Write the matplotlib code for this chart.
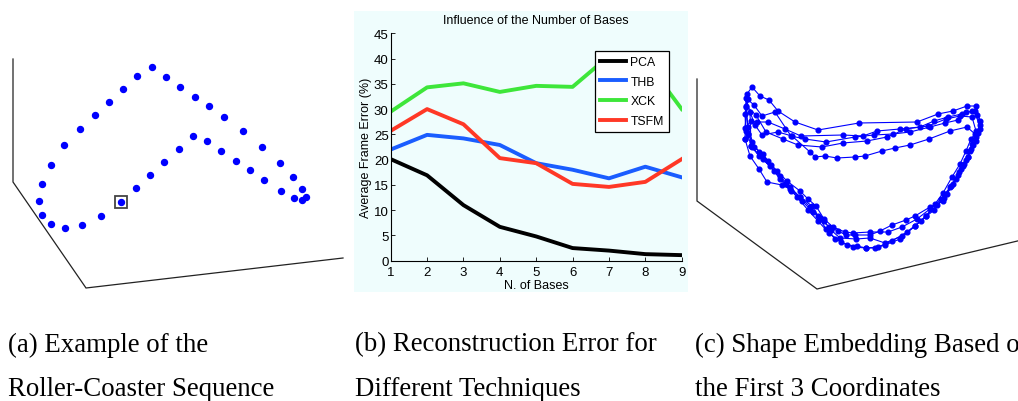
import matplotlib
matplotlib.use("Agg")
import matplotlib.pyplot as plt
from matplotlib.patches import Rectangle

W, H = 1018, 402

# ---------------- (b) reconstruction error data ----------------
n_bases = [1, 2, 3, 4, 5, 6, 7, 8, 9]
err_pca = [20.1, 16.9, 11.0, 6.7, 4.8, 2.5, 2.0, 1.3, 1.1]
err_thb = [22.0, 24.9, 24.2, 22.9, 19.3, 18.0, 16.3, 18.6, 16.5]
err_xck = [29.5, 34.3, 35.1, 33.4, 34.6, 34.4, 40.5, 39.7, 30.0]
err_tsfm = [25.7, 30.0, 27.0, 20.3, 19.3, 15.2, 14.6, 15.6, 20.1]
series_names = ["PCA", "THB", "XCK", "TSFM"]
series_colors = ["#000000", "#1a5dff", "#3ee63a", "#ff3826"]
y_ticks = [0, 5, 10, 15, 20, 25, 30, 35, 40, 45]

# ---------------- (a) roller-coaster sample (projected view, px) ----------------
rc_x = [151.7, 166, 180.3, 194.7, 209, 223.7, 243, 262.3, 279.7, 293.3, 302.3, 305.7,
        302.3, 294, 280.7, 264.3, 250, 235.7, 221.3, 207, 192.7, 178.7, 164.3, 150,
        135.7, 120.7, 101.3, 82.3, 65.3, 51, 42.3, 39, 42, 50.7, 64.3, 80.3, 94.7,
        109, 123.3, 137.3]
rc_y = [68.3, 78.3, 88, 97.7, 107.3, 117.7, 132, 147.7, 163.7, 178.3, 190, 198,
        200.7, 198.7, 191.7, 181.3, 171.3, 161.7, 152, 142.3, 137.3, 150.3, 163.3, 176.3,
        189.3, 203.3, 217, 225.7, 228.7, 225.3, 216.3, 202.3, 185, 165.7, 146.3, 129.7, 116.3,
        103.3, 90.3, 77]
rc_marked = 25
frame_a_x = [13, 13, 86, 343]
frame_a_y = [60, 183, 289, 259]

# ---------------- (c) shape embedding cycles (projected view, px) ----------------
cycle_1 = [(747, 95), (752, 88), (760, 97), (769, 101), (778, 112), (795, 123), (818, 131),
           (859, 124), (917, 123), (938, 115), (953, 112), (967, 107), (976, 107),
           (980, 122), (978, 134), (973, 146), (968, 158), (961, 170), (953, 185), (944, 199),
           (934, 211), (921, 222), (907, 233), (892, 242), (878, 248), (866, 249), (853, 248),
           (841, 243), (829, 234), (818, 222), (808, 211), (797, 198), (786, 185), (774, 172),
           (763, 160), (752, 148), (746, 132), (745, 115), (747, 100)]
cycle_2 = [(748, 100), (745, 129), (751, 122), (757, 123), (768, 123), (785, 130), (801, 137),
           (843, 136), (863, 137), (877, 132), (900, 130), (920, 128), (934, 122), (948, 118),
           (962, 115), (972, 112), (977, 116), (980, 126), (976, 138), (971, 150), (966, 161),
           (959, 173), (951, 187), (941, 200), (930, 210), (917, 220), (902, 228), (888, 233),
           (870, 233), (853, 234), (845, 233), (833, 228), (824, 220), (816, 207), (808, 200),
           (800, 192), (787, 182), (777, 172), (768, 162), (759, 153), (752, 143), (748, 135)]
cycle_3 = [(748, 135), (746, 107), (756, 116), (766, 133), (783, 140), (798, 146), (822, 148),
           (843, 144), (867, 142), (887, 138), (906, 130), (928, 127), (946, 120), (960, 117),
           (972, 118), (976, 132), (972, 145), (968, 158), (963, 167), (956, 180), (947, 195),
           (937, 206), (926, 217), (915, 227), (902, 237), (885, 244), (870, 239), (856, 240),
           (840, 239), (831, 231), (824, 222), (813, 213), (802, 202), (791, 192), (780, 180),
           (770, 167), (759, 157), (751, 147)]
cycle_4 = [(751, 147), (750, 113), (755, 126), (762, 136), (778, 133), (792, 137), (810, 153),
           (815, 158), (825, 157), (837, 159), (855, 158), (865, 157), (882, 152), (895, 149),
           (910, 146), (929, 140), (950, 132), (967, 128), (975, 135), (971, 140), (966, 152),
           (960, 165), (952, 178), (943, 194), (935, 205), (926, 217), (915, 227), (900, 240),
           (885, 246), (875, 249), (866, 249), (857, 247), (847, 246), (835, 240), (826, 230),
           (818, 217), (812, 207), (800, 198), (790, 190), (782, 186), (767, 183), (759, 170),
           (750, 157), (745, 140)]
cycle_5 = [(745, 140), (746, 99), (754, 106), (762, 117), (775, 113), (791, 137), (805, 140),
           (826, 143), (855, 138), (874, 136), (893, 135), (910, 133), (930, 128), (945, 124),
           (958, 121), (966, 113), (975, 112), (980, 130), (976, 142), (970, 152), (964, 165),
           (958, 176), (950, 188), (943, 202), (930, 208), (915, 217), (906, 221), (892, 226),
           (880, 232), (870, 236), (855, 236), (846, 236), (838, 232), (829, 228), (820, 219),
           (810, 208), (800, 198), (790, 188), (780, 177), (771, 166), (763, 155), (754, 148),
           (748, 128), (746, 108)]
cycles = [cycle_1, cycle_2, cycle_3, cycle_4, cycle_5]
frame_c_x = [697, 697, 817, 1030]
frame_c_y = [80, 202, 290, 239]

captions = [
    (8, "(a) Example of the", "Roller-Coaster Sequence"),
    (355, "(b) Reconstruction Error for", "Different Techniques"),
    (695, "(c) Shape Embedding Based on", "the First 3 Coordinates"),
]

fig = plt.figure(figsize=(W / 100, H / 100), dpi=100)
fig.patch.set_facecolor("white")


def px_axes(x0, y0, x1, y1):
    ax = fig.add_axes([x0 / W, 1 - y1 / H, (x1 - x0) / W, (y1 - y0) / H])
    ax.set_xlim(x0, x1)
    ax.set_ylim(y1, y0)
    ax.axis("off")
    return ax


# (a)
ax_a = px_axes(0, 0, 350, 310)
ax_a.plot(frame_a_x, frame_a_y, color="#222222", lw=0.9, solid_joinstyle="miter")
ax_a.plot(rc_x, rc_y, "o", color="#0000ff", ms=4.3, mec="#0000ff", ls="none")
ax_a.plot(rc_x[rc_marked], rc_y[rc_marked], "s", ms=8.5, mfc="none", mec="#444444", mew=1.3)

# (c)
ax_c = px_axes(690, 0, W, 310)
ax_c.plot(frame_c_x, frame_c_y, color="#222222", lw=0.9, solid_joinstyle="miter")
for cyc in cycles:
    xs = [p[0] for p in cyc]
    ys = [p[1] for p in cyc]
    ax_c.plot(xs, ys, "-o", color="#0000ff", lw=0.8, ms=3.4, mec="#0000ff")

# (b) light panel behind the chart
fig.patches.append(Rectangle((354 / W, 1 - 293 / H), 334 / W, 281 / H,
                             transform=fig.transFigure, facecolor="#effdfd",
                             edgecolor="none", zorder=-5))
ax_b = fig.add_axes([390.7 / W, 1 - 261.7 / H, 291 / W, 227.4 / H])
ax_b.set_zorder(2)
ax_b.set_facecolor("none")
for vals, name, col in zip([err_pca, err_thb, err_xck, err_tsfm], series_names, series_colors):
    ax_b.plot(n_bases, vals, color=col, lw=2.8, label=name, solid_joinstyle="round")
ax_b.set_xlim(1, 9)
ax_b.set_ylim(0, 45)
ax_b.set_xticks(n_bases)
ax_b.set_yticks(y_ticks)
ax_b.spines["top"].set_visible(False)
ax_b.spines["right"].set_visible(False)
for s in ("left", "bottom"):
    ax_b.spines[s].set_linewidth(0.8)
ax_b.tick_params(direction="in", length=3, width=0.6, labelsize=9.5)
ax_b.tick_params(axis="y", pad=1.5)
ax_b.tick_params(axis="x", pad=3.5)
for lab in ax_b.get_xticklabels() + ax_b.get_yticklabels():
    lab.set_family("Liberation Sans")
ax_b.set_title("Influence of the Number of Bases", fontsize=9,
               family="Liberation Sans", pad=7.5)
ax_b.set_xlabel("N. of Bases", fontsize=9, family="Liberation Sans", labelpad=1)
ax_b.set_ylabel("Average Frame Error (%)", fontsize=9, family="Liberation Sans",
                labelpad=1)
leg = ax_b.legend(loc="upper right", bbox_to_anchor=(0.957, 0.9235), fancybox=False,
                  framealpha=1, edgecolor="black", prop={"family": "Liberation Sans", "size": 8.8},
                  handlelength=2.1, labelspacing=0.62, borderpad=0.45, handletextpad=0.35,
                  borderaxespad=0)
leg.get_frame().set_linewidth(0.9)

# captions
for x, l1, l2 in captions:
    fig.text(x / W, 1 - 345 / H, l1, family="Liberation Serif", fontsize=19.4,
             va="center", ha="left")
    fig.text(x / W, 1 - 390 / H, l2, family="Liberation Serif", fontsize=19.4,
             va="center", ha="left")

fig.savefig("out.png", dpi=100)
